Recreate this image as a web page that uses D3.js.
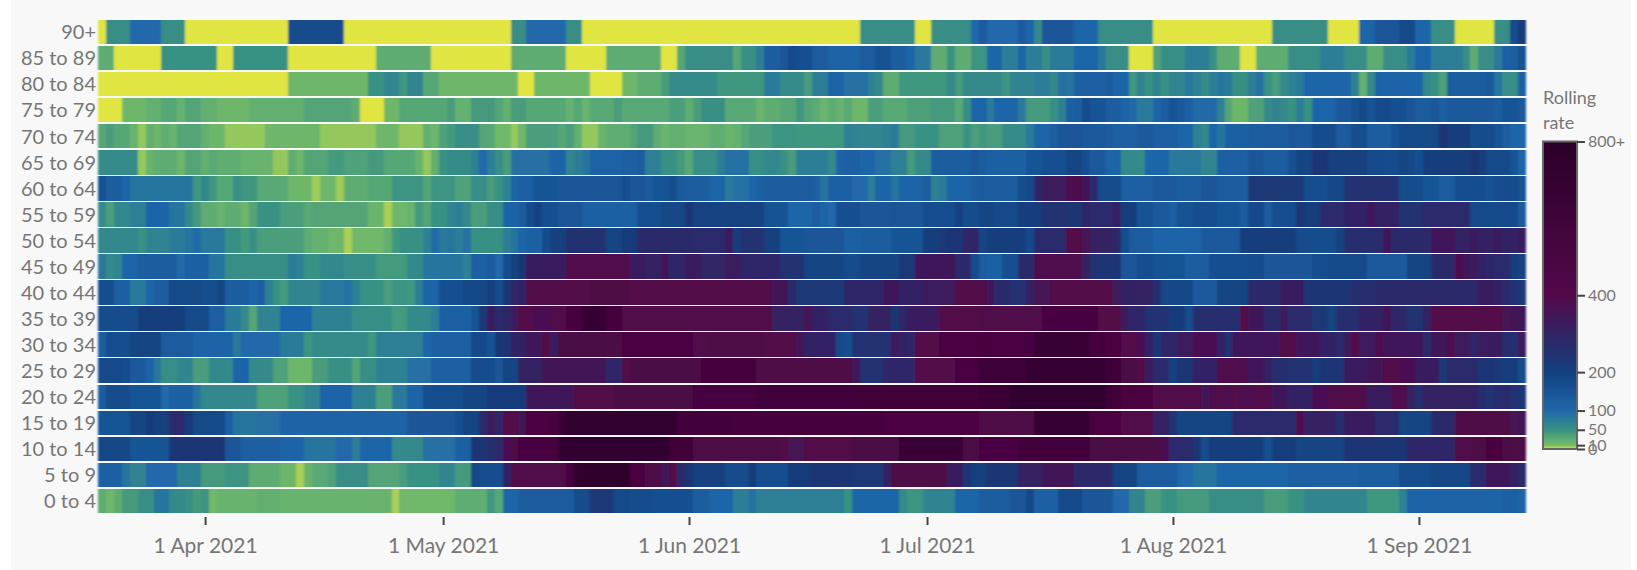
<!DOCTYPE html>
<html>
<head>
<meta charset="utf-8">
<script src="https://cdn.jsdelivr.net/npm/d3@7"></script>
<style>
html, body { margin: 0; padding: 0; background: #fff; }
svg { display: block; }
text { font-family: Lato, sans-serif; fill: #767676; }
</style>
</head>
<body>
<div id="chart"></div>
<script>
'use strict';

var ageBands = ['90+', '85 to 89', '80 to 84', '75 to 79', '70 to 74', '65 to 69', '60 to 64', '55 to 59', '50 to 54', '45 to 49',
    '40 to 44', '35 to 39', '30 to 34', '25 to 29', '20 to 24', '15 to 19', '10 to 14', '5 to 9', '0 to 4'];

var firstDay = '2021-03-19';
var tickDates = ['2021-04-01', '2021-05-01', '2021-06-01', '2021-07-01', '2021-08-01', '2021-09-01'];

var legendTicks = [0, 10, 50, 100, 200, 400, 800];
var colourStops = [0, 10, 50, 100, 200, 400, 800];
var colourHex = ['#e0e543', '#74bb68', '#399283', '#2067ab', '#12407f', '#53084a', '#2a0028'];

// rolling rate per day, one row per age band, 19 Mar to 14 Sep
var rate90 = [0,55,55,55,100,100,100,100,55,55, 55,0,0,0,0,0,0,0,0,0, 0,0,0,0,170,170,170,170,170,170, 170,0,0,0,0,0,0,0,0,0, 0,0,0,0,0,0,0,0,0,0,
    0,0,55,55,100,100,100,100,100,55, 55,0,0,0,0,0,0,0,0,0, 0,0,0,0,0,0,0,0,0,0, 0,0,0,0,0,0,0,0,0,0, 0,0,0,0,0,0,55,55,55,55,
    55,55,55,0,0,55,55,55,55,55, 100,130,100,100,100,100,130,105,60,140, 140,140,140,105,105,105,55,55,55,55, 55,55,55,0,0,0,0,0,0,0, 0,0,0,0,0,0,0,0,55,55,
    55,55,55,55,55,0,0,0,0,105, 105,145,145,145,180,180,105,105,55,55, 55,0,0,0,0,0,55,55,170,220];
var rate85 = [25,25,0,0,0,0,0,0,50,50, 50,50,50,50,50,0,0,50,50,50, 50,50,50,50,0,0,0,0,0,0, 0,0,0,0,0,25,25,25,25,25, 25,25,0,0,0,0,0,0,0,0,
    0,0,25,25,25,25,25,25,25,0, 0,0,0,0,25,25,25,25,25,25, 25,0,0,30,55,55,55,55,55,55, 30,52,52,75,125,125,140,175,160,160, 130,130,108,108,108,108,130,130,155,155,
    125,125,105,80,80,25,25,50,25,25, 48,48,105,105,75,75,105,75,75,55, 78,78,78,105,105,105,80,55,55,55, 0,0,0,35,55,55,55,75,75,75, 52,25,25,25,0,0,25,25,25,25,
    55,55,55,55,75,75,75,55,55,55, 25,25,55,55,55,78,105,105,75,75, 75,75,55,25,55,55,78,115,125,155];
var rate80 = [0,0,0,0,0,0,0,0,0,0, 0,0,0,0,0,0,0,0,0,0, 0,0,0,0,14,14,14,14,14,14, 14,14,14,14,50,50,65,65,45,65, 65,30,30,14,14,14,14,14,14,14,
    14,14,14,0,0,14,14,14,14,14, 14,14,0,0,0,0,14,14,25,25, 25,40,58,58,58,58,58,58,45,45, 45,45,45,45,78,78,58,58,58,40, 75,75,108,108,88,88,88,70,60,25,
    25,45,45,45,45,45,45,60,42,60, 60,60,60,60,48,68,68,68,75,75, 60,90,85,115,120,120,120,125,105,105, 45,68,50,68,50,65,65,80,72,58, 72,85,78,52,52,75,90,50,40,60,
    70,78,105,105,105,105,105,105,70,22, 60,110,110,110,110,110,110,60,52,35, 125,125,125,125,125,135,85,55,55,120];
var rate75 = [0,0,0,14,14,14,22,22,30,30, 20,32,32,22,22,14,14,14,14,22, 22,22,22,22,22,22,32,32,32,32, 32,32,25,0,0,0,14,14,30,30, 30,30,30,30,40,20,20,42,42,42,
    32,22,40,40,30,30,30,30,30,20, 30,18,28,28,28,40,28,28,28,28, 28,28,38,38,24,38,52,52,52,28, 28,28,28,17,25,25,30,30,45,32, 26,17,25,19,28,15,15,38,38,28,
    28,28,36,36,36,42,42,42,28,55, 105,105,78,105,105,105,78,42,42,42, 55,70,115,125,170,150,150,125,125,108, 95,78,78,105,125,150,135,115,95,95, 95,70,32,14,14,35,35,60,68,60,
    50,75,50,105,105,105,135,135,155,180, 150,175,175,160,160,145,130,130,140,115, 135,135,135,135,135,135,125,150,150,135];
var rate70 = [30,40,30,30,18,7,22,15,24,18, 32,32,32,22,14,14,7,7,7,7, 7,15,15,15,15,15,15,15,7,7, 7,7,7,7,7,14,14,14,7,7, 7,22,14,35,42,55,55,55,32,30,
    12,12,7,15,38,38,38,38,30,40, 22,7,7,16,24,24,24,32,42,42, 26,16,22,22,17,17,17,24,24,16, 20,30,38,38,38,48,48,48,45,45, 45,45,45,45,70,68,65,65,65,70,
    78,42,42,50,50,50,35,35,35,50, 38,45,40,40,58,58,58,80,105,105, 125,140,140,140,135,135,135,130,118,118, 118,135,135,120,120,120,105,105,70,62, 105,85,115,115,115,125,125,130,130,130,
    140,135,135,170,170,170,130,130,165,165, 125,125,125,150,180,180,180,180,180,240, 210,210,210,165,170,170,150,125,105,105];
var rate65 = [58,58,58,58,58,7,18,25,25,25, 15,32,32,22,28,24,24,24,18,18, 18,18,7,7,25,15,32,32,32,42, 42,35,35,35,42,42,30,30,30,30, 18,7,22,50,58,58,58,70,100,72,
    55,40,90,90,90,90,90,108,108,65, 75,85,112,112,112,112,118,118,125,72, 72,52,52,42,30,55,55,55,75,90, 90,90,55,55,62,62,52,40,75,75, 75,75,60,110,120,120,105,105,90,90,
    72,72,42,60,60,125,125,125,125,125, 140,125,115,115,115,115,115,150,150,160, 160,160,190,190,160,135,135,105,105,60, 60,60,105,105,105,80,80,80,80,65, 65,118,118,118,118,140,140,125,125,125,
    160,190,190,235,235,205,205,205,205,205, 175,175,170,170,190,185,160,210,210,210, 210,210,210,240,210,175,175,175,150,105];
var rate60 = [155,125,125,110,85,85,85,85,85,85, 85,85,45,62,45,30,30,52,45,45, 28,28,28,28,14,14,14,6,14,14, 6,25,25,25,30,30,30,48,48,48, 48,32,48,48,48,35,35,55,55,40,
    50,70,105,120,120,150,150,150,145,145, 145,145,145,145,145,145,165,145,145,130, 150,150,165,130,125,125,125,105,105,80, 90,90,105,115,130,130,130,130,130,130, 120,85,115,115,115,100,100,75,110,110,
    85,110,110,110,125,70,80,110,110,110, 125,130,130,130,130,130,165,175,290,330, 330,330,385,385,340,270,170,170,170,120, 120,120,120,135,135,135,125,125,125,140, 140,125,125,125,125,230,230,230,230,230,
    230,230,165,165,165,185,185,250,250,250, 250,250,250,250,170,170,170,150,150,130, 130,165,165,165,165,155,165,170,170,150];
var rate55 = [58,38,62,62,72,72,110,110,110,85, 85,60,42,25,25,18,25,25,15,32, 50,50,50,38,38,38,28,32,32,32, 32,32,32,32,16,16,5,14,14,18, 42,32,50,50,68,72,60,40,40,55,
    55,110,110,130,170,195,160,160,145,145, 145,115,115,115,115,115,115,115,160,160, 160,185,185,185,235,195,195,195,195,195, 195,195,195,195,155,155,155,105,105,105, 125,110,100,160,160,160,140,140,140,140,
    145,145,145,145,165,165,165,165,195,170, 170,190,190,175,175,175,210,210,210,245, 245,245,240,240,290,270,270,270,300,210, 210,155,155,135,135,120,155,155,165,165, 165,150,150,150,125,175,175,130,165,165,
    165,240,210,210,270,270,270,300,300,300, 340,300,300,300,250,250,250,270,270,270, 270,270,270,175,175,175,175,175,175,130];
var rate50 = [62,62,62,62,62,50,68,68,68,78, 78,85,95,80,80,80,52,52,42,55, 38,38,38,38,38,38,25,20,20,15, 15,5,13,13,13,13,22,45,52,52, 52,70,95,80,85,75,90,52,52,52,
    52,75,85,105,115,115,170,200,200,255, 255,255,255,255,190,190,220,220,280,280, 280,280,280,280,280,270,270,270,270,320, 215,250,250,250,205,205,150,150,150,140, 140,140,140,140,115,115,125,125,125,125,
    150,150,150,150,215,215,230,235,235,290, 290,190,215,215,215,215,215,175,270,270, 270,270,400,400,360,310,310,310,280,165, 130,130,130,110,110,110,110,110,110,135, 135,135,135,135,215,215,215,215,215,215,
    215,170,170,170,170,170,195,260,260,260, 260,260,340,280,280,280,280,280,340,340, 340,310,310,320,300,310,320,300,310,320];
var rate45 = [80,60,65,105,105,125,125,125,125,125, 95,115,115,115,85,85,55,55,55,55, 55,55,55,55,78,70,50,50,62,62, 62,55,55,55,55,42,42,42,42,60, 60,85,85,85,85,85,70,118,118,130,
    100,165,195,240,320,320,320,320,320,395, 395,395,395,395,395,395,395,320,320,310, 310,345,285,285,320,320,295,295,295,325, 325,290,290,290,290,290,250,250,250,190, 190,190,190,190,170,170,190,190,190,190,
    190,230,230,340,340,340,340,340,280,280, 170,130,115,115,160,160,280,280,390,390, 390,390,390,390,310,250,240,240,240,140, 140,165,165,155,155,150,150,125,125,125, 160,160,160,160,160,170,170,140,140,140,
    140,145,145,165,165,175,175,175,175,175, 135,135,135,135,135,190,190,190,280,280, 280,390,340,330,300,290,270,270,215,195];
var rate40 = [165,165,120,120,80,80,105,130,130,180, 180,180,180,165,165,190,125,125,125,105, 125,70,50,42,65,65,65,65,80,80, 80,90,70,50,50,50,38,48,48,45, 75,110,110,160,160,160,185,185,185,200,
    165,240,290,300,400,400,400,400,400,400, 400,400,460,460,460,460,460,410,410,410, 410,410,410,410,410,410,410,410,410,410, 410,410,410,410,410,350,350,270,230,230, 230,230,230,230,290,290,290,290,290,340,
    340,300,300,300,330,330,330,330,400,400, 400,400,340,280,280,245,245,310,360,360, 410,410,410,410,410,410,410,410,330,300, 300,310,310,260,185,185,185,185,135,135, 135,190,190,190,190,280,280,280,280,320,
    320,320,240,240,240,240,240,240,260,260, 260,280,280,280,280,280,280,280,280,280, 280,280,280,270,320,320,300,270,250,230];
var rate35 = [170,170,170,170,170,210,210,210,210,210, 210,180,180,180,120,120,78,78,60,32, 68,68,68,105,105,105,105,70,70,70, 70,70,55,55,55,55,55,42,42,60, 60,60,75,115,115,115,115,150,230,320,
    270,290,330,400,400,370,370,420,420,520, 520,680,680,680,540,540,420,420,420,420, 420,420,420,420,420,420,420,420,420,420, 420,420,420,420,420,310,310,310,310,360, 300,300,270,270,270,250,250,310,310,310,
    240,290,320,320,320,320,410,410,410,410, 410,420,420,420,420,420,420,420,420,490, 490,490,490,490,490,490,400,400,400,330, 290,290,250,250,250,220,220,170,260,260, 260,260,260,260,400,340,340,280,280,330,
    270,270,270,230,230,190,260,260,260,300, 300,300,350,290,290,250,250,310,400,400, 400,400,400,420,420,420,400,360,350,340];
var rate30 = [125,165,165,165,190,190,190,190,130,130, 130,130,110,110,110,110,110,80,100,100, 100,100,100,78,78,78,48,58,58,58, 58,58,58,58,45,72,72,72,72,72, 72,105,118,118,118,118,118,175,175,150,
    240,240,300,300,340,340,400,320,470,470, 470,470,470,470,470,470,490,490,490,490, 490,490,490,490,490,420,420,440,440,440, 440,440,440,440,400,400,400,400,350,300, 300,300,300,175,160,250,250,250,250,250,
    330,300,290,410,410,410,480,480,480,480, 480,490,490,490,490,490,490,490,660,660, 660,660,660,660,660,540,540,480,480,400, 400,370,300,240,290,290,330,330,370,370, 370,300,250,340,340,340,340,340,340,400,
    400,340,340,340,300,300,270,330,400,330, 330,380,340,340,340,340,340,280,340,340, 380,330,330,290,330,320,320,260,260,330];
var rate25 = [175,175,175,165,135,135,110,80,55,55, 65,65,40,40,62,62,62,110,110,60, 60,60,35,35,14,14,14,40,40,52, 52,52,32,55,55,70,70,70,70,90, 90,90,120,120,120,120,120,170,170,170,
    140,190,190,310,310,310,350,350,350,350, 350,350,350,350,290,290,400,470,470,470, 470,470,470,470,470,470,540,540,540,540, 540,540,540,430,430,430,430,430,430,430, 430,430,430,430,430,340,250,250,250,290,
    290,290,290,410,410,410,410,410,490,490, 490,610,610,610,610,610,610,700,700,700, 700,700,700,700,700,700,700,620,620,470, 470,400,320,270,270,200,240,240,300,300, 300,390,390,390,390,340,340,310,260,260,
    250,250,250,215,240,240,240,320,320,320, 350,350,410,410,370,370,320,320,320,230, 270,270,270,280,240,235,230,215,215,170];
var rate20 = [130,170,170,170,150,150,150,150,100,115, 115,115,85,62,62,62,62,62,62,62, 35,35,35,35,50,50,68,68,110,110, 110,110,70,70,70,38,38,80,80,110, 110,165,165,165,165,165,190,190,190,220,
    220,220,220,220,340,340,340,340,340,340, 400,400,400,400,400,470,470,470,470,470, 470,470,470,470,470,530,530,530,530,530, 530,530,530,580,580,580,580,580,580,580, 580,580,580,580,580,580,600,600,600,600,
    600,600,600,600,600,600,600,600,600,600, 600,640,640,640,640,720,720,720,720,720, 720,720,720,720,720,720,720,600,600,480, 480,480,480,420,420,420,420,420,420,350, 380,400,380,400,380,380,400,420,340,340,
    300,300,300,370,370,420,420,420,420,420, 320,320,320,390,390,310,260,310,310,310, 310,310,310,300,260,250,260,270,250,240];
var rate15 = [150,150,150,150,190,190,220,200,200,270, 270,220,180,180,180,180,120,85,85,85, 90,90,90,110,110,110,110,110,110,110, 110,110,110,110,110,110,110,110,110,140, 140,140,140,140,140,160,190,190,270,330,
    290,400,400,350,480,480,480,530,640,720, 720,720,720,720,720,720,720,720,720,720, 720,720,720,560,560,560,560,560,560,560, 540,540,540,540,540,540,540,540,540,540, 540,540,540,540,540,540,540,540,540,480,
    480,480,480,480,480,480,480,480,480,480, 480,430,430,430,430,430,430,430,700,700, 700,700,700,700,700,480,480,480,480,420, 420,420,420,310,310,250,190,190,190,190, 190,190,190,270,270,270,270,270,270,270,
    270,390,310,310,310,310,260,320,320,320, 320,270,270,270,190,190,190,190,280,280, 280,440,440,430,430,430,430,430,360,350];
var rate10 = [185,185,185,185,150,150,150,150,150,240, 240,240,240,240,240,240,140,140,120,120, 120,120,120,110,110,110,85,85,85,85, 100,100,75,105,105,105,105,60,60,60, 60,90,90,90,90,115,115,240,240,260,
    280,370,430,530,530,530,530,530,740,740, 740,740,740,740,740,740,740,740,740,740, 740,740,600,600,600,450,450,450,450,450, 450,450,450,450,450,450,400,360,360,400, 400,400,400,400,400,470,470,470,470,470,
    470,650,650,650,650,650,650,650,650,470, 470,500,500,500,500,500,560,560,560,560, 560,560,560,560,560,470,470,470,470,470, 470,470,470,470,370,270,270,270,240,170, 210,210,210,210,210,210,210,160,210,210,
    210,190,190,190,190,190,190,240,240,240, 240,240,240,240,240,290,290,290,290,290, 290,420,420,430,470,520,480,470,460,470];
var rate5 = [115,115,115,85,68,68,100,100,100,100, 70,70,70,42,42,42,48,48,48,25, 25,25,25,15,15,5,18,28,28,35, 55,55,55,55,32,32,32,32,40,50, 50,50,50,65,65,42,42,185,165,165,
    165,300,420,420,420,420,420,420,420,520, 760,760,760,760,760,760,760,480,480,430, 430,340,400,280,240,200,200,200,200,170, 170,170,220,165,165,165,165,220,220,220, 240,240,240,240,240,230,230,230,230,300,
    430,430,430,430,430,430,430,320,320,240, 205,205,240,240,240,240,310,310,310,340, 350,350,350,280,280,280,280,280,190,190, 190,130,130,130,130,130,100,100,85,85, 85,105,105,105,105,105,105,105,105,105,
    120,120,120,120,120,120,120,120,120,125, 125,125,125,125,165,165,165,165,185,185, 185,185,185,270,270,340,340,340,300,280];
var rate0 = [25,14,25,42,42,55,55,85,85,60, 60,52,42,48,12,18,18,18,18,18, 22,22,22,18,18,18,18,18,18,18, 18,18,18,18,18,18,18,5,13,13, 13,13,13,13,13,24,24,24,24,45,
    30,105,105,130,130,130,130,130,130,130, 170,170,230,230,230,175,175,170,170,170, 160,160,160,160,160,125,125,105,105,105, 75,75,90,72,72,72,72,72,72,72, 72,72,72,72,50,105,105,105,105,105,
    105,60,48,48,68,68,68,68,105,105, 105,125,125,125,125,145,145,175,115,115, 115,175,175,175,140,140,140,140,100,100, 65,65,38,38,50,50,42,42,42,42, 55,55,55,55,55,55,55,40,40,40,
    50,50,65,65,65,65,65,65,65,65, 45,45,45,45,70,108,108,108,108,108, 108,108,108,110,110,110,105,120,115,110];

var rows = [rate90, rate85, rate80, rate75, rate70, rate65, rate60, rate55, rate50, rate45,
    rate40, rate35, rate30, rate25, rate20, rate15, rate10, rate5, rate0];

var width = 1637,
    height = 570,
    plot_left = 98,
    plot_right = 1526,
    plot_top = 20,
    plot_bottom = 513,
    bar_left = 1543,
    bar_right = 1577;

var parseDay = d3.utcParse('%Y-%m-%d');
var start = parseDay(firstDay);

var svg = d3.select('#chart').append('svg')
    .attr('width', width)
    .attr('height', height);

var defs = svg.append('defs');

// the cells run soft into each other in the original
defs.append('filter')
    .attr('id', 'soft')
    .attr('x', '-1%').attr('width', '102%')
    .attr('y', '-1%').attr('height', '102%')
    .append('feGaussianBlur')
    .attr('stdDeviation', '1.3 0.45');

svg.append('rect')
    .attr('x', 11)
    .attr('width', 1620)
    .attr('height', height)
    .attr('fill', '#f8f8f8');

var x = d3.scaleUtc()
    .domain([d3.utcHour.offset(start, -12), d3.utcHour.offset(d3.utcDay.offset(start, 179), 12)])
    .range([plot_left, plot_right]);

var y = d3.scaleBand()
    .domain(ageBands)
    .range([plot_top, plot_bottom])
    .paddingInner(0.065);

var colour = d3.scaleLinear()
    .domain(colourStops)
    .range(colourHex)
    .clamp(true);

var cells = [];
rows.forEach(function(values, i) {
    values.forEach(function(v, j) {
        cells.push({ band: ageBands[i], day: d3.utcDay.offset(start, j), value: v });
    });
});

svg.append('g')
    .attr('filter', 'url(#soft)')
    .selectAll('rect').data(cells)
    .enter().append('rect')
    .attr('x', function(d) { return x(d3.utcHour.offset(d.day, -12)); })
    .attr('y', function(d) { return y(d.band); })
    .attr('width', function(d) { return x(d3.utcHour.offset(d.day, 12)) - x(d3.utcHour.offset(d.day, -12)) + 0.4; })
    .attr('height', y.bandwidth())
    .attr('fill', function(d) { return colour(d.value); })
    .attr('shape-rendering', 'crispEdges');

// age labels
svg.append('g').selectAll('text').data(ageBands)
    .enter().append('text')
    .attr('x', 96)
    .attr('y', function(d) { return y(d) + y.bandwidth() / 2; })
    .attr('dy', '0.36em')
    .attr('text-anchor', 'end')
    .attr('font-size', 20)
    .text(function(d) { return d; });

// date axis
var xAxis = d3.axisBottom(x)
    .tickValues(tickDates.map(function(d) { return parseDay(d); }))
    .tickFormat(d3.utcFormat('%-d %b %Y'))
    .tickSize(8)
    .tickPadding(13);

var xg = svg.append('g')
    .attr('transform', 'translate(0,517)')
    .call(xAxis);
xg.select('.domain').remove();
xg.selectAll('.tick line').attr('stroke', '#444').attr('stroke-width', 2);
xg.selectAll('.tick text').attr('font-size', 21).attr('font-family', 'Lato, sans-serif').attr('fill', '#767676');

// colour bar
var legendY = d3.scaleLinear()
    .domain([0, 800])
    .range([449, 141.5]);

var gradient = defs.append('linearGradient')
    .attr('id', 'rate-gradient')
    .attr('x1', 0).attr('x2', 0)
    .attr('y1', 1).attr('y2', 0);

gradient.selectAll('stop').data(colourStops)
    .enter().append('stop')
    .attr('offset', function(d) { return d / 800; })
    .attr('stop-color', function(d) { return colour(d); });

svg.append('rect')
    .attr('x', bar_left)
    .attr('y', legendY(800))
    .attr('width', bar_right - bar_left)
    .attr('height', legendY(0) - legendY(800))
    .attr('fill', 'url(#rate-gradient)')
    .attr('stroke', '#666')
    .attr('stroke-width', 2);

var legendAxis = d3.axisRight(legendY)
    .tickValues(legendTicks)
    .tickFormat(function(d) { return d === 800 ? '800+' : d; })
    .tickSize(8)
    .tickPadding(3);

var lg = svg.append('g')
    .attr('transform', 'translate(' + bar_right + ',0)')
    .call(legendAxis);
lg.select('.domain').remove();
lg.selectAll('.tick line').attr('stroke', '#444').attr('stroke-width', 2);
lg.selectAll('.tick text').attr('font-size', 16).attr('font-family', 'Lato, sans-serif').attr('fill', '#767676');

svg.append('text')
    .attr('x', bar_left)
    .attr('y', 104)
    .attr('font-size', 18)
    .text('Rolling');
svg.append('text')
    .attr('x', bar_left)
    .attr('y', 129)
    .attr('font-size', 18)
    .text('rate');
</script>
</body>
</html>
